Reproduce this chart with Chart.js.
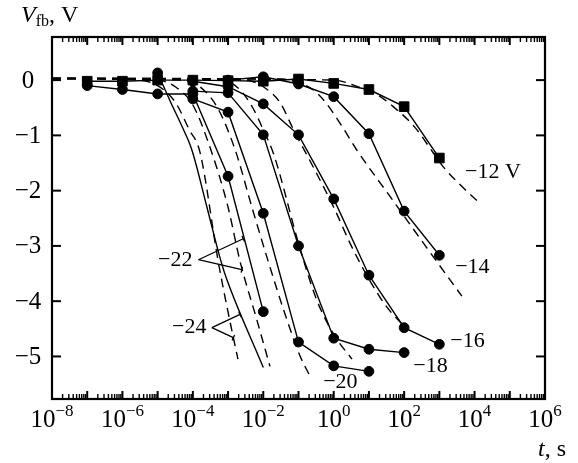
<!DOCTYPE html>
<html>
<head>
<meta charset="utf-8">
<script src="https://cdn.jsdelivr.net/npm/chart.js@4.4.0/dist/chart.umd.min.js"></script>
<style>
  html, body { margin: 0; padding: 0; background: #fff; }
</style>
</head>
<body>
<canvas id="chart" width="578" height="463"></canvas>
<script>
// --- Data (time as log10 t, voltage in V) ---
// measured points, solid lines with markers
const lg12 = [-7, -6, -5, -4, -3, -2, -1, 0, 1, 2, 3];
const v12  = [-0.02, -0.02, 0.0, 0.0, -0.01, -0.02, 0.02, -0.06, -0.17, -0.48, -1.41];
const lg14 = [-3, -2, -1, 0, 1, 2, 3];
const v14  = [0.0, 0.06, -0.07, -0.30, -0.97, -2.37, -3.17];
const lg16 = [-4, -3, -2, -1, 0, 1, 2, 3];
const v16  = [-0.02, -0.12, -0.43, -0.99, -2.15, -3.53, -4.48, -4.78];
const lg18 = [-4, -3, -2, -1, 0, 1, 2];
const v18  = [-0.20, -0.23, -0.99, -3.00, -4.67, -4.87, -4.93];
const lg20 = [-4, -3, -2, -1, 0, 1];
const v20  = [-0.34, -0.58, -2.41, -4.74, -5.17, -5.27];
const lg22 = [-7, -6, -5, -4, -3, -2];
const v22  = [-0.10, -0.17, -0.25, -0.25, -1.74, -4.19];
// -24 V solid curve (marker only on first point)
const lg24 = [-5, -4.63, -4.3, -4.03, -3.6, -3.2, -3.04, -2.0];
const v24  = [0.13, -0.40, -0.85, -1.26, -2.30, -3.28, -3.60, -5.20];

// calculated curves, dashed
const lgD12 = [-8, 0, 0.6, 1.32, 1.69, 2.3, 2.82, 3.1, 3.6, 4.1];
const vD12  = [0.03, 0.0, -0.10, -0.30, -0.48, -0.85, -1.31, -1.56, -1.90, -2.20];
const lgD14 = [-8, -1.5, -1, -0.6, -0.3, 0.2, 0.65, 1.65, 2.65, 3.64];
const vD14  = [0.03, 0.02, -0.05, -0.17, -0.35, -0.80, -1.26, -2.15, -3.04, -3.91];
const lgD16 = [-8, -2.5, -2, -1.52, -1.14, -0.6, 0, 0.5, 1, 1.5, 2.0];
const vD16  = [0.03, 0.0, -0.12, -0.41, -0.90, -1.55, -2.30, -3.00, -3.60, -4.10, -4.45];
const lgD18 = [-8, -3.2, -2.7, -2.3, -2, -1.7, -1, -0.5, 0, 0.52];
const vD18  = [0.03, 0.0, -0.15, -0.50, -0.90, -1.35, -2.95, -3.95, -4.60, -5.05];
const lgD20 = [-8, -4.3, -3.8, -3.3, -2.8, -2.3, -1.86, -1.4, -0.95, -0.67];
const vD20  = [0.03, 0.0, -0.12, -0.50, -1.26, -2.35, -3.28, -4.20, -5.00, -5.36];
const lgD22 = [-8, -5, -4.5, -4.0, -3.49, -3.0, -2.66, -2.2, -1.81];
const vD22  = [0.03, 0.0, -0.12, -0.45, -1.26, -2.30, -3.28, -4.30, -5.18];
const lgD24 = [-8, -5.6, -5.0, -4.5, -4.1, -3.8, -3.28, -3.0, -2.72];
const vD24  = [0.03, 0.0, -0.10, -0.40, -0.90, -1.30, -3.28, -4.20, -5.05];

// axes
const yTickValues = [0, -1, -2, -3, -4, -5];
const xLabelExps = [-8, -6, -4, -2, 0, 2, 4, 6];
const seriesNames = ['\u221212 V', '\u221214', '\u221216', '\u221218', '\u221220', '\u221222', '\u221224'];

function pts(lg, v) {
    return lg.map((e, i) => ({ x: Math.pow(10, e), y: v[i] }));
}

const solid = { borderColor: '#000', borderWidth: 1.4, pointBackgroundColor: '#000', pointBorderColor: '#000',
    pointBorderWidth: 1, pointRadius: 4.9, pointStyle: 'circle', tension: 0, fill: false };
const dashed = { borderColor: '#000', borderWidth: 1.4, borderDash: [9, 6], pointRadius: 0,
    cubicInterpolationMode: 'monotone', fill: false };

const datasets = [
    { ...dashed, data: pts(lgD12, vD12) },
    { ...dashed, data: pts(lgD14, vD14) },
    { ...dashed, data: pts(lgD16, vD16) },
    { ...dashed, data: pts(lgD18, vD18) },
    { ...dashed, data: pts(lgD20, vD20) },
    { ...dashed, data: pts(lgD22, vD22) },
    { ...dashed, data: pts(lgD24, vD24) },
    { ...solid, data: pts(lg24, v24), cubicInterpolationMode: 'monotone',
      pointRadius: lg24.map((e, i) => i === 0 ? 4.9 : 0) },
    { ...solid, data: pts(lg22, v22) },
    { ...solid, data: pts(lg20, v20) },
    { ...solid, data: pts(lg18, v18) },
    { ...solid, data: pts(lg16, v16) },
    { ...solid, data: pts(lg14, v14) },
    { ...solid, data: pts(lg12, v12), pointStyle: 'rect', pointRadius: 6.8 }
];

// label anchors in data units (log t, V)
const notes = [
    { text: seriesNames[0], lg: 3.73, v: -1.67 },
    { text: seriesNames[1], lg: 3.45, v: -3.39 },
    { text: seriesNames[2], lg: 3.31, v: -4.73 },
    { text: seriesNames[3], lg: 2.26, v: -5.18 },
    { text: seriesNames[4], lg: -0.30, v: -5.47 },
    { text: seriesNames[5], lg: -4.99, v: -3.25 },
    { text: seriesNames[6], lg: -4.59, v: -4.48 }
];
const pointers = [
    { from: [-3.84, -3.25], to: [[-2.57, -2.87], [-2.61, -3.43]] },
    { from: [-3.46, -4.48], to: [[-2.66, -4.24], [-2.85, -4.66]] }
];

const SERIF = '"Liberation Serif", "Times New Roman", serif';

const decor = {
    id: 'decor',
    afterDraw(chart) {
        const { ctx, chartArea: a, scales: { x, y } } = chart;
        const px = lg => x.getPixelForValue(Math.pow(10, lg));
        const line = (x1, y1, x2, y2) => { ctx.beginPath(); ctx.moveTo(x1, y1); ctx.lineTo(x2, y2); ctx.stroke(); };
        ctx.save();
        ctx.strokeStyle = '#000';
        ctx.fillStyle = '#000';

        // x ticks, inward, top and bottom
        for (let n = -8; n <= 6; n++) {
            for (let k = 1; k <= 9; k++) {
                if (n === 6 && k > 1) break;
                const xx = x.getPixelForValue(k * Math.pow(10, n));
                const len = k === 1 ? 8 : 5;
                ctx.lineWidth = k === 1 ? 2 : 1.4;
                line(xx, a.bottom, xx, a.bottom - len);
                line(xx, a.top, xx, a.top + len);
            }
        }
        // y ticks, inward, left and right
        ctx.lineWidth = 2;
        yTickValues.forEach(v => {
            const yy = y.getPixelForValue(v);
            line(a.left, yy, a.left + 9, yy);
            line(a.right, yy, a.right - 9, yy);
        });

        // frame
        ctx.lineWidth = 2.2;
        ctx.strokeRect(a.left, a.top, a.right - a.left, a.bottom - a.top);

        // y tick labels
        ctx.font = '25px ' + SERIF;
        ctx.textAlign = 'center';
        ctx.textBaseline = 'middle';
        yTickValues.forEach(v => {
            const s = v === 0 ? '0' : '\u2212' + Math.abs(v);
            ctx.fillText(s, 28, y.getPixelForValue(v) + 1);
        });

        // x tick labels 10^n
        ctx.textAlign = 'left';
        ctx.textBaseline = 'alphabetic';
        xLabelExps.forEach(n => {
            const base = '10';
            const ex = n < 0 ? '\u2212' + Math.abs(n) : String(n);
            ctx.font = '25px ' + SERIF;
            const wb = ctx.measureText(base).width;
            ctx.font = '17px ' + SERIF;
            const we = ctx.measureText(ex).width;
            const x0 = px(n) - (wb + we) / 2;
            ctx.font = '25px ' + SERIF;
            ctx.fillText(base, x0, 427);
            ctx.font = '17px ' + SERIF;
            ctx.fillText(ex, x0 + wb, 416);
        });

        // axis titles
        ctx.font = 'italic 24px ' + SERIF;
        ctx.fillText('V', 21, 22);
        let w = ctx.measureText('V').width;
        ctx.font = '16px ' + SERIF;
        ctx.fillText('fb', 21 + w, 26);
        const w2 = ctx.measureText('fb').width;
        ctx.font = '24px ' + SERIF;
        ctx.fillText(', V', 21 + w + w2, 22);

        ctx.font = 'italic 24px ' + SERIF;
        ctx.fillText('t', 538, 456);
        w = ctx.measureText('t').width;
        ctx.font = '24px ' + SERIF;
        ctx.fillText(', s', 538 + w, 456);

        // series labels
        ctx.font = '22px ' + SERIF;
        ctx.textBaseline = 'middle';
        notes.forEach(n => ctx.fillText(n.text, px(n.lg), y.getPixelForValue(n.v)));

        // pointer lines
        ctx.lineWidth = 1.3;
        pointers.forEach(p => {
            const fx = px(p.from[0]), fy = y.getPixelForValue(p.from[1]);
            p.to.forEach(t => {
                const tx = px(t[0]), ty = y.getPixelForValue(t[1]);
                line(fx, fy, tx, ty);
                const dx = tx - fx, dy = ty - fy, L = Math.hypot(dx, dy);
                const nx = -dy / L * 3, ny = dx / L * 3;
                line(tx - nx, ty - ny, tx + nx, ty + ny);
            });
        });
        ctx.restore();
    }
};

new Chart(document.getElementById('chart'), {
    type: 'line',
    data: { datasets },
    options: {
        responsive: false,
        animation: false,
        layout: { padding: { left: 52, right: 33, top: 37, bottom: 64 } },
        plugins: { legend: { display: false }, tooltip: { enabled: false } },
        scales: {
            x: { type: 'logarithmic', min: 1e-8, max: 1e6, display: false },
            y: { type: 'linear', min: -5.77, max: 0.78, display: false }
        }
    },
    plugins: [decor]
});
</script>
</body>
</html>
